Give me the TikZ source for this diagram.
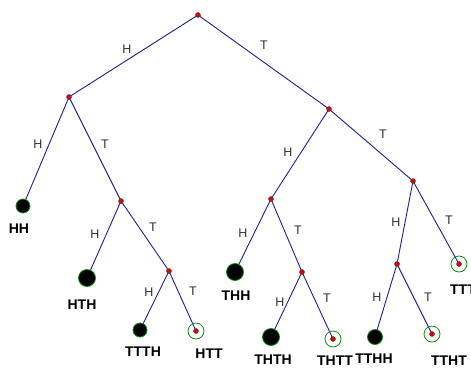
\documentclass[tikz,border=0pt]{standalone}
\usepackage{fontspec}
\setmainfont{Liberation Sans}
\usetikzlibrary{positioning}
\definecolor{treeblue}{RGB}{30,30,150}
\definecolor{leafgreen}{RGB}{20,140,20}
\definecolor{dotred}{RGB}{225,0,0}

\begin{document}
\begin{tikzpicture}[x=1pt, y=-1pt,
    edge/.style={draw=treeblue, line width=0.9pt},
    inner/.style={circle, fill=dotred, draw=black!75, line width=0.4pt, inner sep=0pt, minimum size=5pt},
    hit/.style={circle, fill=black, draw=leafgreen, line width=0.8pt, inner sep=0pt, minimum size=15pt},
    miss/.style={circle, draw=leafgreen, line width=0.8pt, inner sep=0pt, minimum size=16pt},
    lab/.style={font=\fontsize{12.5}{13}\selectfont, text=black!80, inner sep=0pt},
    leaf/.style={font=\bfseries\fontsize{14}{15}\selectfont, inner sep=0pt}]
  \useasboundingbox[fill=white] (0,0) rectangle (471,368);
  % tree points
  \coordinate (r) at (198,15);
  \coordinate (h) at (69,97);
  \coordinate (t) at (329,109);
  \coordinate (hh) at (23,206);
  \coordinate (ht) at (121,201);
  \coordinate (hth) at (87,278);
  \coordinate (htt) at (169,271);
  \coordinate (ttth) at (140,330);
  \coordinate (httt) at (196,331);
  \coordinate (th) at (271,199);
  \coordinate (thh) at (235,272);
  \coordinate (tht) at (302,272);
  \coordinate (thth) at (271,337);
  \coordinate (thtt) at (333,339);
  \coordinate (tt) at (413,181);
  \coordinate (tth) at (397,264);
  \coordinate (tthh) at (375,337);
  \coordinate (ttht) at (432,334);
  \coordinate (ttt) at (459,264);
  % branches
  \draw[edge] (r) -- (h);
  \draw[edge] (r) -- (t);
  \draw[edge] (h) -- (hh);
  \draw[edge] (h) -- (ht);
  \draw[edge] (ht) -- (hth);
  \draw[edge] (ht) -- (htt);
  \draw[edge] (htt) -- (ttth);
  \draw[edge] (htt) -- (httt);
  \draw[edge] (t) -- (th);
  \draw[edge] (t) -- (tt);
  \draw[edge] (th) -- (thh);
  \draw[edge] (th) -- (tht);
  \draw[edge] (tht) -- (thth);
  \draw[edge] (tht) -- (thtt);
  \draw[edge] (tt) -- (tth);
  \draw[edge] (tt) -- (ttt);
  \draw[edge] (tth) -- (tthh);
  \draw[edge] (tth) -- (ttht);
  % branch points
  \foreach \p in {r,h,t,ht,htt,th,tht,tt,tth}
    \node[inner] (\p-dot) at (\p) {};
  % end points
  \node[hit, minimum size=14pt] (hh-end) at (hh) {};
  \node[hit, minimum size=17pt] (hth-end) at (hth) {};
  \node[hit, minimum size=14pt] (ttth-end) at (ttth) {};
  \node[hit, minimum size=17pt] (thh-end) at (thh) {};
  \node[hit, minimum size=17pt] (thth-end) at (thth) {};
  \node[hit, minimum size=15pt] (tthh-end) at (tthh) {};
  \foreach \p in {httt,thtt,ttht,ttt} {
    \node[miss] (\p-ring) at (\p) {};
    \node[inner] (\p-dot) at (\p) {};
  }
  % branch labels
  \node[lab] (l-rh) at (127,49) {H};
  \node[lab] (l-rt) at (264,45) {T};
  \node[lab] (l-hh) at (38,144) {H};
  \node[lab] (l-ht) at (105,144) {T};
  \node[lab] (l-hth) at (95,234) {H};
  \node[lab] (l-htt) at (153,227) {T};
  \node[lab] (l-ttth) at (149,292) {H};
  \node[lab] (l-httt) at (193,291) {T};
  \node[lab] (l-th) at (288,152) {H};
  \node[lab] (l-tt) at (383,134) {T};
  \node[lab] (l-thh) at (243,233) {H};
  \node[lab] (l-tht) at (298,230) {T};
  \node[lab] (l-thth) at (280,302) {H};
  \node[lab] (l-thtt) at (327,298) {T};
  \node[lab] (l-tth) at (396,222) {H};
  \node[lab] (l-ttt) at (449,220) {T};
  \node[lab] (l-tthh) at (377,297) {H};
  \node[lab] (l-ttht) at (428,297) {T};
  % outcome names
  \node[leaf] (n-hh) at (19,229) {HH};
  \node[leaf] (n-hth) at (82,305) {HTH};
  \node[leaf] (n-ttth) at (143,352) {TTTH};
  \node[leaf] (n-httt) at (209,354) {HTT};
  \node[leaf] (n-thh) at (236,296) {THH};
  \node[leaf] (n-thth) at (273,360) {THTH};
  \node[leaf] (n-thtt) at (335,361) {THTT};
  \node[leaf] (n-tthh) at (374,359) {TTHH};
  \node[leaf] (n-ttht) at (449,361) {TTHT};
  \node[leaf] (n-ttt) at (463,290) {TTT};
\end{tikzpicture}
\end{document}
